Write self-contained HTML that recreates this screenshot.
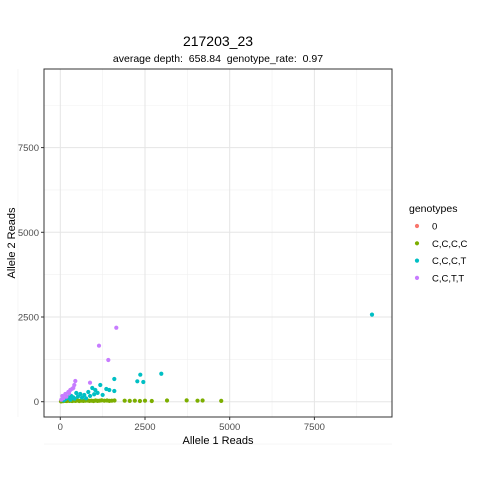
<!DOCTYPE html>
<html><head><meta charset="utf-8"><style>
body{margin:0;background:#fff;}
svg{display:block;font-family:"Liberation Sans",Arial,sans-serif;}
text{white-space:pre;}
</style></head><body>
<svg id="chart" width="480" height="480" viewBox="0 0 480 480">
<rect width="480" height="480" fill="#fff"/>
<text x="218" y="46" font-size="14" text-anchor="middle" fill="#000">217203_23</text>
<text x="218" y="62" font-size="10.5" text-anchor="middle" fill="#000" xml:space="preserve">average depth:  658.84  genotype_rate:  0.97</text>
<g id="grid"></g>
<g id="points"></g>
<rect x="44" y="69" width="348" height="348" fill="none" stroke="#333" stroke-width="1"/>
<g id="axes"></g>
<text x="218" y="444" font-size="11" text-anchor="middle" fill="#000">Allele 1 Reads</text>
<text transform="translate(15,243) rotate(-90)" font-size="11" text-anchor="middle" fill="#000">Allele 2 Reads</text>
<g id="legend"></g>
</svg>
<script>
const xTicks=[0,2500,5000,7500];
const yTicks=[0,2500,5000,7500];
const genotypes=["0","C,C,C,C","C,C,C,T","C,C,T,T"];
const colors=["#F8766D","#7CAE00","#00BFC4","#C77CFF"];
const greenX=[20,50,80,110,150,190,230,270,310,350,400,450,500,560,620,680,740,800,860,920,980,1040,1100,1160,1220,1300,1380,1450,1520,1600,1900,2050,2200,2350,2500,2700,3150,3730,4050,4200,4750];
const greenY=[10,20,15,30,25,20,35,25,30,20,30,25,35,20,30,25,30,35,25,30,20,35,25,30,40,30,35,25,30,35,30,25,30,20,30,20,35,40,30,35,25];
const tealX=[9200,2981,2361,2450,2273,1594,1358,1446,1594,1180,944,1033,826,708,590,472,325,207,100,150,250,300,380,420,520,640,760,880,1000,1100,1250];
const tealY=[2570,826,797,581,602,670,375,345,316,493,404,345,286,198,227,257,168,139,40,80,110,60,130,90,150,120,100,170,220,260,200];
const purpleX=[1653,1142,1417,877,443,413,384,236,59,148,295,350,180,90,30,260];
const purpleY=[2184,1653,1231,561,611,493,404,286,168,227,345,380,150,100,60,250];
const NS="http://www.w3.org/2000/svg";
const X0=60.3,XS=84.7/2500,Y0=401.7,YS=84.7/2500;
const sx=v=>X0+v*XS, sy=v=>Y0-v*YS;
function mk(t,a,p){const e=document.createElementNS(NS,t);for(const k in a)e.setAttribute(k,a[k]);p.appendChild(e);return e;}
const grid=document.getElementById('grid'),axes=document.getElementById('axes'),pts=document.getElementById('points'),leg=document.getElementById('legend');
[-1250,1250,3750,6250,8750].forEach(v=>{
 const gx=mk('line',{x1:sx(v),x2:sx(v),y1:69,y2:417,stroke:'#f0f0f0','stroke-width':0.6},grid);
 
 const gy=mk('line',{x1:44,x2:392,y1:sy(v),y2:sy(v),stroke:'#f0f0f0','stroke-width':0.6},grid);
 
});
xTicks.forEach(v=>{
 const g=mk('line',{x1:sx(v),x2:sx(v),y1:69,y2:417,stroke:'#e5e5e5','stroke-width':1},grid);
 
 const t=mk('line',{x1:sx(v),x2:sx(v),y1:417,y2:420,stroke:'#333'},axes);
 
 const l=mk('text',{x:sx(v),y:430,'font-size':9.5,'text-anchor':'middle',fill:'#4d4d4d'},axes);l.textContent=v;
 
});
yTicks.forEach(v=>{
 const g=mk('line',{x1:44,x2:392,y1:sy(v),y2:sy(v),stroke:'#e5e5e5','stroke-width':1},grid);
 
 const t=mk('line',{x1:41,x2:44,y1:sy(v),y2:sy(v),stroke:'#333'},axes);
 
 const l=mk('text',{x:39,y:sy(v)+3.5,'font-size':9.5,'text-anchor':'end',fill:'#4d4d4d'},axes);l.textContent=v;
 
});
function series(xs,ys,c,name){xs.forEach((x,i)=>{
 const p=mk('circle',{cx:sx(x),cy:sy(ys[i]),r:2.1,fill:c},pts);
 
});}
series(greenX,greenY,colors[1],'point-cccc');
series(tealX,tealY,colors[2],'point-ccct');
series(purpleX,purpleY,colors[3],'point-cctt');
const lt=mk('text',{x:409,y:212,'font-size':10.5,fill:'#000'},leg);lt.textContent='genotypes';

genotypes.forEach((g,i)=>{
 const y=226+i*17.3;
 const k=mk('circle',{cx:417,cy:y,r:2.1,fill:colors[i]},leg);
 
 const t=mk('text',{x:432,y:y+3.5,'font-size':9.5,fill:'#000'},leg);t.textContent=g;
 
});
</script>
</body></html>
